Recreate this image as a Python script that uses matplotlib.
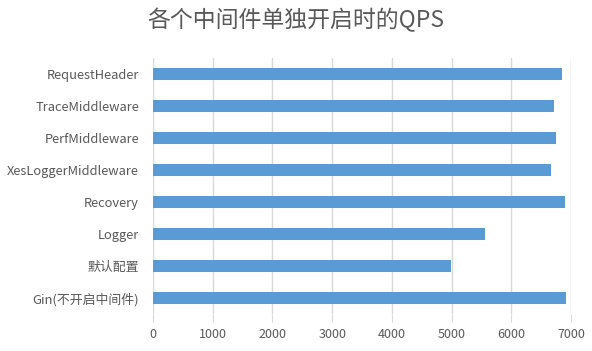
import matplotlib
matplotlib.use("Agg")
import matplotlib.pyplot as plt

plt.rcParams['font.family'] = ['Noto Sans CJK SC', 'DejaVu Sans']

categories = ["RequestHeader", "TraceMiddleware", "PerfMiddleware", "XesLoggerMiddleware",
              "Recovery", "Logger", "默认配置", "Gin(不开启中间件)"]
values = [6850, 6720, 6750, 6670, 6900, 5560, 4990, 6920]
xticks = [0, 1000, 2000, 3000, 4000, 5000, 6000, 7000]

fig = plt.figure(figsize=(5.92, 3.51), dpi=100)
ax = fig.add_axes([153/592, 1-314/351, (571-153)/592, (314-58)/351])

y = list(range(len(categories)))
ax.barh(y, values, height=0.35, color="#5B9BD5", zorder=3)
ax.set_yticks(y)
ax.set_yticklabels(categories)
ax.set_ylim(len(categories)-0.5, -0.5)
ax.set_xlim(0, 7000)
ax.set_xticks(xticks)
ax.grid(axis='x', color='#d9d9d9', linewidth=1, zorder=0)
for s in ax.spines.values():
    s.set_visible(False)
ax.tick_params(axis='y', length=0, pad=10, labelsize=9.3, labelcolor='#595959')
ax.tick_params(axis='x', length=6, color='#d9d9d9', pad=4, labelsize=9, labelcolor='#595959')
fig.text(0.5, 1-20/351, "各个中间件单独开启时的QPS", ha='center', va='center',
         fontsize=16.5, color='#595959')
fig.savefig("out.png", dpi=100)
